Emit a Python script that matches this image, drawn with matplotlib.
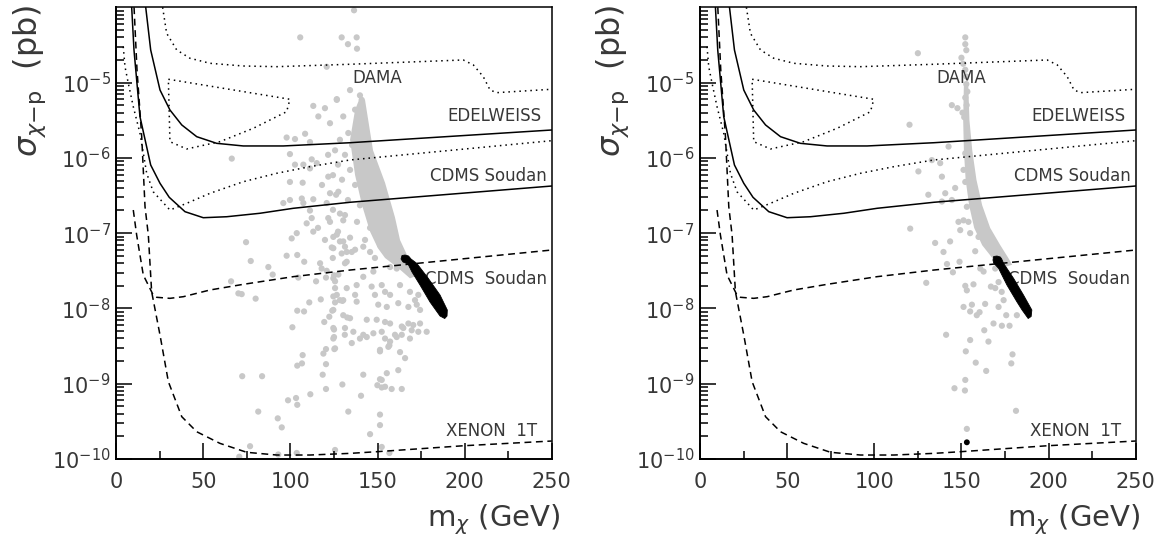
import numpy as np
import matplotlib
matplotlib.use("Agg")
import matplotlib.pyplot as plt
from matplotlib.ticker import FixedLocator, NullFormatter

plt.rcParams['font.family'] = ['DejaVu Sans']
plt.rcParams['mathtext.fontset'] = 'dejavusans'

# ---------------- exclusion curves (x in GeV, log10 sigma in pb) ----------------
dama_out_x = [26.6, 28.9, 34.7, 42.3, 53.8, 72.9, 92.1, 134.2, 199.2, 205.0, 210.7, 214.6, 218.4, 250.0]
dama_out_l = [-4.0, -4.345, -4.567, -4.677, -4.744, -4.78, -4.789, -4.757, -4.70, -4.766, -4.922, -5.099, -5.134, -5.089]

dama_in_x = [29.9, 99.7, 97.8, 78.7, 59.5, 40.4, 30.8, 29.9]
dama_in_l = [-4.956, -5.222, -5.387, -5.607, -5.785, -5.882, -5.785, -4.956]

edel_x = [16.9, 19.75, 25.1, 30.8, 37.6, 46.2, 57.6, 72.9, 95.9, 134.2, 250.0]
edel_l = [-4.0, -4.567, -5.099, -5.364, -5.563, -5.719, -5.807, -5.842, -5.842, -5.799, -5.63]

cdms_x = [8.84, 10.16, 13.6, 19.75, 25.1, 30.4, 39.45, 49.95, 63.4, 82.5, 101.6, 134.2, 250.0]
cdms_l = [-4.0, -4.567, -5.453, -6.095, -6.338, -6.524, -6.715, -6.795, -6.782, -6.736, -6.67, -6.59, -6.374]

cdms_dot_x = [4.0, 5.0, 6.9, 9.76, 13.6, 17.45, 21.2, 30.8, 40.4, 53.8, 72.9, 92.1, 111.2, 134.2, 250.0]
cdms_dot_l = [-4.523, -4.789, -5.01, -5.32, -5.674, -6.205, -6.45, -6.693, -6.604, -6.471, -6.317, -6.205, -6.117, -6.028, -5.772]

cdms_fut_x = [9.76, 11.7, 15.5, 21.2, 23.2, 30.8, 38.5, 53.8, 72.9, 101.6, 134.2, 250.0]
cdms_fut_l = [-6.693, -7.025, -7.556, -7.822, -7.852, -7.866, -7.844, -7.755, -7.68, -7.578, -7.49, -7.224]

xenon_x = [10.2, 11.9, 14.6, 16.5, 18.4, 20.3, 25.1, 29.9, 37.6, 46.2, 59.5, 74.9, 92.1, 111.2, 134.2, 149.5, 199.2, 250.0]
xenon_l = [-4.0, -4.833, -5.719, -6.649, -7.025, -7.778, -8.353, -8.973, -9.438, -9.638, -9.792, -9.911, -9.947, -9.947, -9.925, -9.903, -9.824, -9.761]

# ---------------- left panel: scattered model points ----------------
left_x = [105.6, 129.4, 133.0, 138.0, 136.5, 138.2, 120.8, 113.1, 119.8, 126.6, 116.0, 122.7, 130.3, 134.2,
          97.8, 102.6, 108.4, 111.2, 99.7, 66.3, 102.6, 107.4, 112.2, 115.1, 111.2, 121.7, 99.7, 107.0,
          95.9, 99.7, 106.5, 107.4, 113.1, 111.2, 122.7, 127.5, 120.8, 112.2, 121.7, 122.7, 128.4, 130.3,
          109.3, 113.1, 100.7, 103.6, 74.5, 126.6, 130.3, 124.6, 128.4, 123.7, 131.3, 97.8, 103.9, 107.9,
          77.2, 87.3, 89.8, 117.0, 117.9, 120.8, 124.3, 129.4, 132.3, 125.0, 127.5, 104.5, 114.7, 120.4,
          125.6, 132.3, 125.6, 126.6, 128.4, 65.9, 70.1, 72.0, 80.0, 110.8, 117.4, 125.6, 129.8, 103.9,
          107.8, 124.0, 122.3, 132.6, 119.4, 125.0, 101.1, 125.0, 131.2, 120.4, 118.9, 125.2, 107.0, 106.6,
          103.9, 120.4, 118.5, 129.8, 120.4, 72.3, 83.7, 111.4, 103.2, 98.6, 103.9, 81.5, 133.2, 92.7,
          95.0, 76.8, 70.6, 125.6, 103.6, 93.0, 140.5, 145.7, 151.4, 151.4, 149.9, 152.4, 158.1, 151.4,
          155.3, 161.9, 152.4, 156.8, 151.4, 156.8,
          124.6, 132.3, 137.1, 141.8, 145.7, 151.4, 148.5, 158.1, 161.9, 131.3, 141.8, 147.6, 157.2, 161.0,
          124.6, 138.0, 146.6, 152.4, 154.3, 157.2, 162.9, 168.6, 171.5, 173.4, 124.6, 130.3, 137.1, 138.0,
          148.5, 150.4, 155.3, 161.9, 167.7, 172.5, 174.4, 124.6, 130.3, 134.2, 143.8, 149.5, 154.3, 157.2,
          163.9, 167.7, 170.5, 174.4, 124.6, 131.3, 136.1, 141.8, 147.6, 152.4, 160.0, 164.8, 169.6, 173.4,
          178.2, 124.6, 135.2, 139.9, 143.8, 154.3, 157.2, 161.0, 163.9, 168.6, 125.6, 151.4, 156.2, 162.9,
          165.8, 141.8, 152.4, 154.3, 163.9,
          140.9, 141.8, 141.8, 140.9, 133.2, 126.6,
          128.4, 125.6, 131.3, 127.3, 134.2, 124.4, 129.6, 137.1, 126.2, 133.0, 139.9, 124.4, 131.3, 138.2,
          145.7, 127.3, 134.2, 142.8, 135.2, 139.9, 135.4, 142.8, 138.8, 146.8, 150.2, 154.3, 139.9, 137.1,
          121.6, 118.1, 119.8, 115.8]
left_l = [-4.40, -4.40, -4.49, -4.40, -4.04, -4.55, -4.79, -5.31, -5.34, -5.22, -5.45, -5.54, -5.45, -5.10,
          -5.73, -5.75, -5.68, -5.79, -5.95, -6.01, -6.09, -6.09, -6.02, -6.07, -6.14, -6.25, -6.32, -6.33,
          -6.60, -6.56, -6.54, -6.60, -6.55, -6.70, -6.47, -6.45, -6.60, -6.80, -6.80, -6.85, -6.74, -6.83,
          -6.87, -6.98, -7.07, -7.00, -7.12, -7.02, -7.11, -7.05, -7.11, -7.19, -7.18, -7.30, -7.29, -7.38,
          -7.37, -7.45, -7.55, -7.40, -7.47, -7.50, -7.33, -7.27, -7.38, -7.56, -7.55, -7.59, -7.64, -7.59,
          -7.64, -7.73, -7.73, -7.82, -7.89, -7.64, -7.80, -7.81, -7.87, -7.92, -7.88, -7.92, -7.90, -8.03,
          -8.04, -8.03, -8.11, -8.12, -8.18, -8.28, -8.25, -8.38, -8.35, -8.54, -8.60, -8.54, -8.62, -8.73,
          -8.76, -8.74, -8.88, -9.01, -9.07, -8.90, -8.90, -9.14, -9.19, -9.22, -9.28, -9.37, -9.37, -9.46,
          -9.58, -9.83, -9.97, -9.88, -9.92, -9.94, -9.16, -9.67, -9.41, -9.55, -9.02, -9.05, -9.07, -8.94,
          -8.86, -8.82, -9.84, -9.92, -8.57, -8.49,
          -7.20, -7.25, -7.22, -7.18, -7.25, -7.16, -7.33, -7.31, -7.25, -7.40, -7.58, -7.51, -7.45, -7.47,
          -7.60, -7.69, -7.71, -7.69, -7.78, -7.82, -7.69, -7.78, -7.89, -7.82, -7.84, -7.89, -7.82, -7.91,
          -7.82, -7.95, -7.98, -7.93, -7.98, -7.95, -8.02, -8.02, -8.09, -8.13, -8.15, -8.15, -8.18, -8.20,
          -8.24, -8.20, -8.22, -8.20, -8.26, -8.26, -8.31, -8.35, -8.33, -8.31, -8.35, -8.26, -8.29, -8.31,
          -8.31, -8.40, -8.46, -8.40, -8.38, -8.40, -8.44, -8.38, -8.35, -8.40, -8.53, -8.55, -8.51, -8.58,
          -8.66, -8.88, -8.95, -9.04, -9.07,
          -5.23, -5.41, -5.54, -5.63, -5.67, -5.23,
          -5.76, -5.90, -5.96, -6.09, -6.16, -6.23, -6.29, -6.36, -6.49, -6.56, -6.63, -6.69, -6.76, -6.85,
          -6.93, -6.98, -7.06, -7.09, -7.25, -6.03, -5.83, -6.23, -5.56, -6.49, -6.69, -6.93, -5.17, -5.36,
          -5.96, -6.36, -7.09, -6.93]

# densely populated (saturated) strip of the left-panel cloud, outline
left_dense_x = [142.8, 147.4, 154.3, 160.0, 162.9, 166.9, 170.9, 173.2, 168.6, 161.7, 154.3, 150.2, 145.7,
                141.1, 137.1, 134.2, 137.1, 139.9]
left_dense_l = [-5.23, -5.90, -6.33, -6.79, -7.09, -7.29, -7.44, -7.56, -7.60, -7.46, -7.33, -7.20, -6.98,
                -6.63, -6.23, -5.76, -5.36, -5.20]

# ---------------- right panel: scattered model points ----------------
right_x = [125.0, 120.2, 142.6, 144.5, 147.7, 138.8, 133.0, 137.8, 125.3, 131.0, 138.8, 140.7, 146.4, 144.5,
           120.6, 134.9, 143.5, 148.3, 151.2, 149.3, 154.0, 155.0, 159.8, 153.1, 152.2, 151.2, 152.2, 139.7,
           141.7, 148.9, 145.1, 157.9, 160.8, 162.7, 169.4, 129.8, 152.2, 153.1, 156.9, 166.9, 169.4, 171.3,
           173.1, 151.2, 156.0, 155.0, 158.8, 160.4, 163.6, 171.3, 174.2, 175.7, 181.8, 168.4, 173.2, 177.6,
           163.1, 141.2, 155.0, 165.5, 152.5, 179.3, 158.2, 178.6, 164.2, 152.2, 146.0, 152.0, 181.3, 153.1,
           152.2, 152.2, 152.8, 150.0, 151.0, 152.2, 152.8, 152.8, 153.4, 152.2, 153.0, 150.6, 151.6]
right_l = [-4.61, -5.56, -5.85, -5.30, -5.34, -6.25, -6.03, -6.07, -6.18, -6.49, -6.58, -6.47, -6.40, -6.56,
           -6.94, -7.13, -7.11, -6.85, -6.83, -6.96, -6.85, -7.00, -7.05, -6.65, -6.32, -6.16, -5.94, -7.25,
           -7.41, -7.38, -7.52, -7.24, -7.47, -7.51, -7.47, -7.66, -7.70, -7.76, -7.68, -7.71, -7.73, -7.65,
           -7.78, -7.98, -7.95, -8.04, -8.09, -8.05, -7.94, -7.98, -7.89, -8.09, -8.09, -8.20, -8.23, -8.23,
           -8.29, -8.35, -8.42, -8.44, -8.57, -8.61, -8.72, -8.73, -8.83, -8.95, -9.06, -9.09, -9.36, -9.60,
           -4.40, -4.49, -4.57, -4.67, -4.75, -4.83, -4.92, -5.02, -5.12, -5.20, -5.30, -5.40, -5.46]

right_dense_x = [153.9, 154.6, 156.2, 158.6, 161.9, 166.5, 172.3, 176.9, 179.1, 173.4, 167.7, 161.9, 157.3,
                 154.4, 152.4, 151.4, 151.0, 151.4]
right_dense_l = [-5.03, -5.50, -5.90, -6.29, -6.63, -6.93, -7.16, -7.33, -7.42, -7.46, -7.33, -7.16, -6.93,
                 -6.63, -6.29, -5.90, -5.50, -5.03]

# ---------------- black region (points passing all constraints) ----------------
blob_left_x = [163.47, 164.04, 165.77, 167.78, 169.21, 172.49, 178.97, 185.86, 190.05, 189.88, 188.56, 185.86,
               180.12, 174.38, 169.78, 167.49, 164.62]
blob_left_l = [-7.3435, -7.297, -7.2904, -7.3037, -7.3435, -7.4006, -7.5959, -7.8217, -8.021, -8.1007, -8.1339,
               -8.1007, -7.9147, -7.6889, -7.5162, -7.41, -7.3833]
blob_right_x = [168.1, 168.5, 170.4, 172.3, 173.1, 174.15, 179.9, 185.6, 190.4, 190.0, 188.3, 184.8, 181.8,
                176.1, 171.3, 168.5]
blob_right_l = [-7.357, -7.31, -7.304, -7.317, -7.343, -7.4006, -7.6, -7.822, -8.021, -8.107, -8.134, -8.021,
                -7.911, -7.689, -7.467, -7.397]
black_pt_x = [153.1]
black_pt_l = [-9.778]

# ---------------- labels ----------------
curve_labels = ["DAMA", "EDELWEISS", "CDMS Soudan", "CDMS  Soudan", "XENON  1T"]
label_x = [135.8, 244.4, 247.0, 247.0, 241.4]
label_l = [-4.94, -5.443, -6.24, -7.61, -9.63]
label_ha = ['left', 'right', 'right', 'right', 'right']

xticks_major = [0, 50, 100, 150, 200, 250]
xticks_minor = [25, 75, 125, 175, 225]
ydecades = [-10, -9, -8, -7, -6, -5]

GREY = '#c8c8c8'
TXT = '#383838'

fig = plt.figure(figsize=(11.64, 5.39), dpi=100)
ax1 = fig.add_axes([0.0999, 0.1484, 0.3741, 0.8381])
ax2 = fig.add_axes([0.6014, 0.1484, 0.3743, 0.8381])


def p(v):
    return 10.0 ** np.asarray(v)


def draw(ax, sx, sl, dx, dl, bx, bl, extra=None):
    ax.set_yscale('log')
    ax.set_xlim(0, 250)
    ax.set_ylim(1e-10, 1e-4)
    # model points
    ax.fill(dx, p(dl), color=GREY, lw=0, zorder=1)
    ax.scatter(sx, p(sl), s=20, color=GREY, edgecolors='none', zorder=1)
    # curves
    dot = (0, (1, 2.6))
    dash = (0, (4.5, 3))
    ax.plot(dama_out_x, p(dama_out_l), color='k', lw=1.1, ls=dot, zorder=3)
    ax.plot(dama_in_x, p(dama_in_l), color='k', lw=1.1, ls=dot, zorder=3)
    ax.plot(cdms_dot_x, p(cdms_dot_l), color='k', lw=1.1, ls=dot, zorder=3)
    ax.plot(edel_x, p(edel_l), color='k', lw=1.1, zorder=3)
    ax.plot(cdms_x, p(cdms_l), color='k', lw=1.1, zorder=3)
    ax.plot(cdms_fut_x, p(cdms_fut_l), color='k', lw=1.1, ls=dash, zorder=3)
    ax.plot(xenon_x, p(xenon_l), color='k', lw=1.1, ls=dash, zorder=3)
    for t, x, l, ha in zip(curve_labels, label_x, label_l, label_ha):
        ax.text(x, 10.0 ** l, t, ha=ha, va='center', fontsize=12, color=TXT, zorder=4)
    ax.fill(bx, p(bl), color='k', lw=0.6, zorder=5)
    if extra is not None:
        ax.scatter(extra[0], p(extra[1]), s=18, color='k', edgecolors='none', zorder=5)
    # axes styling
    for sp in ax.spines.values():
        sp.set_linewidth(1.1)
    ax.spines['bottom'].set_linewidth(1.4)
    ax.spines['left'].set_linewidth(1.4)
    ax.xaxis.set_major_locator(FixedLocator(xticks_major))
    ax.xaxis.set_minor_locator(FixedLocator(xticks_minor))
    ax.set_xticklabels([str(v) for v in xticks_major])
    ax.yaxis.set_major_locator(FixedLocator([10.0 ** d for d in ydecades]))
    minors = [m * 10.0 ** d for d in ydecades for m in range(2, 10)]
    ax.yaxis.set_minor_locator(FixedLocator(minors))
    ax.yaxis.set_minor_formatter(NullFormatter())
    ax.set_yticklabels([r'$10^{%d}$' % d for d in ydecades])
    ax.tick_params(which='both', direction='in', top=False, right=False, width=1.1, colors='k',
                   labelcolor=TXT)
    ax.tick_params(which='major', length=11.5)
    ax.tick_params(which='minor', length=5.8)
    ax.tick_params(axis='x', which='major', labelsize=15, pad=9)
    ax.tick_params(axis='y', which='major', labelsize=15, pad=4)


draw(ax1, left_x, left_l, left_dense_x, left_dense_l, blob_left_x, blob_left_l)
draw(ax2, right_x, right_l, right_dense_x, right_dense_l, blob_right_x, blob_right_l,
     extra=(black_pt_x, black_pt_l))

for xl in (30, 613):
    fig.text(xl / 1164, 1 - 4 / 539, r'$\sigma_{\chi\mathrm{-p}}$  (pb)', rotation=90, ha='center', va='top',
             fontsize=23, color=TXT)
for xr in (560, 1140):
    fig.text(xr / 1164, 1 - 520 / 539, r'm$_{\chi}$ (GeV)', ha='right', va='center', fontsize=21, color=TXT)

fig.savefig('out.png', dpi=100)
